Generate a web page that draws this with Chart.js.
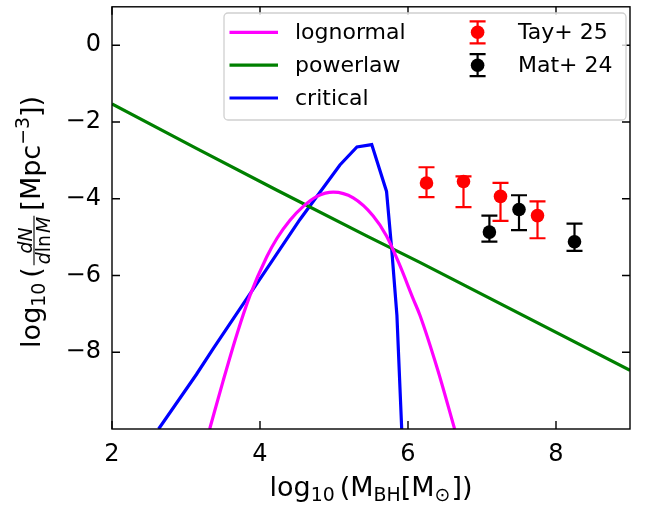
<!DOCTYPE html>
<html><head><meta charset="utf-8">
<script src="https://cdn.jsdelivr.net/npm/chart.js@4"></script>
<style>html,body{margin:0;padding:0;background:#fff}canvas{display:block}</style>
</head><body>
<canvas id="c" width="648" height="508"></canvas>
<script>
// ---- data ----
const xTicks = [2, 4, 6, 8];
const yTicks = [-8, -6, -4, -2, 0];

const lognormalX = [3.32, 3.50, 3.685, 3.865, 4.09, 4.23, 4.405, 4.585, 4.77, 4.99, 5.26, 5.53, 5.71, 5.89, 6.07, 6.16, 6.40, 6.63];
const lognormalY = [-10.0, -8.76, -7.55, -6.52, -5.52, -5.03, -4.56, -4.20, -3.94, -3.83, -3.98, -4.45, -4.97, -5.74, -6.61, -7.03, -8.45, -10.0];

const powerlawX = [2, 3.14, 4.23, 5.44, 6.16, 9];
const powerlawY = [-1.53, -2.69, -3.78, -4.97, -5.66, -8.47];

const criticalX = [2.63, 3.14, 3.37, 3.91, 4.54, 5.08, 5.31, 5.51, 5.71, 5.78, 5.85, 5.915];
const criticalY = [-10.0, -8.58, -7.90, -6.35, -4.54, -3.12, -2.65, -2.59, -3.81, -5.32, -7.03, -10.0];

const tayX = [6.25, 6.75, 7.25, 7.75];
const tayY = [-3.59, -3.55, -3.94, -4.44];
const tayHigh = [-3.18, -3.42, -3.59, -4.07];
const tayLow = [-3.96, -4.22, -4.58, -5.03];

const matX = [7.10, 7.50, 8.25];
const matY = [-4.87, -4.28, -5.12];
const matHigh = [-4.44, -3.91, -4.65];
const matLow = [-5.12, -4.82, -5.36];

const FONT = '"DejaVu Sans", sans-serif';
const FS = 22;   // legend
const TS = 24;   // tick labels
const LF = 27;   // axis labels

function pts(xs, ys) { return xs.map((x, i) => ({x: x, y: ys[i]})); }
function fmt(v) { return (v < 0 ? '\u2212' : '') + Math.abs(v); }

const errorBars = {
  id: 'errorBars',
  beforeDatasetDraw(chart, args) {
    const ds = chart.data.datasets[args.index];
    if (!ds.errLow) return;
    const ctx = chart.ctx, xs = chart.scales.x, ys = chart.scales.y;
    ctx.save();
    ctx.strokeStyle = ds.backgroundColor;
    ctx.lineWidth = 2.2;
    ds.data.forEach((p, i) => {
      const px = xs.getPixelForValue(p.x);
      const y1 = ys.getPixelForValue(ds.errHigh[i]);
      const y2 = ys.getPixelForValue(ds.errLow[i]);
      ctx.beginPath();
      ctx.moveTo(px, y1); ctx.lineTo(px, y2);
      ctx.moveTo(px - 8, y1); ctx.lineTo(px + 8, y1);
      ctx.moveTo(px - 8, y2); ctx.lineTo(px + 8, y2);
      ctx.stroke();
    });
    ctx.restore();
  }
};

const frame = {
  id: 'frame',
  afterDatasetsDraw(chart) {
    const ctx = chart.ctx, a = chart.chartArea, xs = chart.scales.x, ys = chart.scales.y;
    const L = 8;
    ctx.save();
    ctx.strokeStyle = '#000';
    ctx.lineWidth = 1.4;
    ctx.strokeRect(a.left, a.top, a.right - a.left, a.bottom - a.top);
    ctx.beginPath();
    xTicks.forEach(v => {
      const px = xs.getPixelForValue(v);
      ctx.moveTo(px, a.bottom); ctx.lineTo(px, a.bottom - L);
      ctx.moveTo(px, a.top); ctx.lineTo(px, a.top + L);
    });
    yTicks.forEach(v => {
      const py = ys.getPixelForValue(v);
      ctx.moveTo(a.left, py); ctx.lineTo(a.left + L, py);
      ctx.moveTo(a.right, py); ctx.lineTo(a.right - L, py);
    });
    ctx.stroke();
    ctx.restore();
  }
};

// draw a sequence of text runs; returns width
function runs(ctx, list, x0, y0, draw) {
  let x = x0;
  list.forEach(r => {
    if (r.frac) {
      const s = r.size;
      const wn = runs(ctx, r.num, 0, 0, false);
      const wd = runs(ctx, r.den, 0, 0, false);
      const w = Math.max(wn, wd) + 2;
      if (draw) {
        runs(ctx, r.num, x + (w - wn) / 2, y0 - r.bar - 2.5, true);
        runs(ctx, r.den, x + (w - wd) / 2, y0 - r.bar + 2 + s * 0.76, true);
        ctx.save();
        ctx.lineWidth = 1.1;
        ctx.beginPath();
        ctx.moveTo(x, y0 - r.bar); ctx.lineTo(x + w, y0 - r.bar);
        ctx.stroke();
        ctx.restore();
      }
      x += w + (r.gap || 0);
      return;
    }
    ctx.font = (r.it ? 'italic ' : '') + r.size + 'px ' + FONT;
    if (draw) ctx.fillText(r.s, x, y0 + (r.dy || 0));
    x += ctx.measureText(r.s).width + (r.gap || 0);
  });
  return x - x0;
}

const axisLabels = {
  id: 'axisLabels',
  afterDraw(chart) {
    const ctx = chart.ctx, a = chart.chartArea;
    const sub = LF * 0.7;
    ctx.save();
    ctx.fillStyle = '#000';
    ctx.strokeStyle = '#000';
    ctx.textBaseline = 'alphabetic';
    ctx.textAlign = 'left';
    // x label
    const xl = [
      {s: 'log', size: LF},
      {s: '10', size: sub, dy: 5, gap: 5},
      {s: '(M', size: LF},
      {s: 'BH', size: sub, dy: 5},
      {s: '[M', size: LF},
      {s: '\u2299', size: sub, dy: 5, gap: 1},
      {s: '])', size: LF}
    ];
    const wx = runs(ctx, xl, 0, 0, false);
    runs(ctx, xl, (a.left + a.right) / 2 - wx / 2, 496, true);
    // y label
    const yl = [
      {s: 'log', size: LF},
      {s: '10', size: sub, dy: 5, gap: 5},
      {s: '(', size: LF, gap: 2},
      {frac: true, size: sub, bar: 6, gap: 5,
        num: [{s: 'dN', size: sub, it: true}],
        den: [{s: 'd', size: sub, it: true}, {s: 'ln', size: sub, gap: 2}, {s: 'M', size: sub, it: true}]},
      {s: '[Mpc', size: LF},
      {s: '\u22123', size: sub, dy: -11},
      {s: '])', size: LF}
    ];
    const wy = runs(ctx, yl, 0, 0, false);
    ctx.translate(40, (a.top + a.bottom) / 2 + 4);
    ctx.rotate(-Math.PI / 2);
    runs(ctx, yl, -wy / 2, 0, true);
    ctx.restore();
  }
};

const legendBox = {
  id: 'legendBox',
  afterDraw(chart) {
    const ctx = chart.ctx;
    ctx.save();
    ctx.beginPath();
    ctx.roundRect(224, 13, 402, 107, 4);
    ctx.fillStyle = 'rgba(255,255,255,0.8)';
    ctx.fill();
    ctx.strokeStyle = '#d0d0d0';
    ctx.lineWidth = 1.3;
    ctx.stroke();
    const rows = [32.3, 65.2, 98.0];
    const lines = [['lognormal', '#ff00ff'], ['powerlaw', '#008000'], ['critical', '#0000ff']];
    ctx.font = FS + 'px ' + FONT;
    ctx.textBaseline = 'middle';
    lines.forEach((l, i) => {
      ctx.strokeStyle = l[1];
      ctx.lineWidth = 3.2;
      ctx.beginPath();
      ctx.moveTo(229.5, rows[i]); ctx.lineTo(278, rows[i]);
      ctx.stroke();
      ctx.fillStyle = '#000';
      ctx.fillText(l[0], 295, rows[i] + 1);
    });
    const marks = [['Tay+ 25', '#ff0000'], ['Mat+ 24', '#000000']];
    marks.forEach((m, i) => {
      const cx = 477.6, cy = rows[i];
      ctx.strokeStyle = m[1];
      ctx.fillStyle = m[1];
      ctx.lineWidth = 2.2;
      ctx.beginPath();
      ctx.moveTo(cx, cy - 11); ctx.lineTo(cx, cy + 11);
      ctx.moveTo(cx - 8, cy - 11); ctx.lineTo(cx + 8, cy - 11);
      ctx.moveTo(cx - 8, cy + 11); ctx.lineTo(cx + 8, cy + 11);
      ctx.stroke();
      ctx.beginPath();
      ctx.arc(cx, cy, 6.8, 0, Math.PI * 2);
      ctx.fill();
      ctx.fillStyle = '#000';
      ctx.fillText(m[0], 518, cy + 1);
    });
    ctx.restore();
  }
};

const lineDs = (label, xs, ys, color, smooth) => ({
  type: 'scatter', label: label, data: pts(xs, ys), showLine: true,
  borderColor: color, backgroundColor: color, borderWidth: 3.2,
  pointRadius: 0, tension: smooth ? 0.4 : 0,
  cubicInterpolationMode: smooth ? 'monotone' : 'default', clip: 0
});
const errDs = (label, xs, ys, hi, lo, color) => ({
  type: 'scatter', label: label, data: pts(xs, ys), showLine: false,
  backgroundColor: color, borderColor: color, borderWidth: 0,
  pointRadius: 6.8, errHigh: hi, errLow: lo, clip: false
});

const noPad = s => { s.paddingTop = 0; s.paddingBottom = 0; s.paddingLeft = 0; s.paddingRight = 0; };

new Chart(document.getElementById('c'), {
  type: 'scatter',
  data: {
    datasets: [
      lineDs('lognormal', lognormalX, lognormalY, '#ff00ff', true),
      lineDs('powerlaw', powerlawX, powerlawY, '#008000', false),
      lineDs('critical', criticalX, criticalY, '#0000ff', false),
      errDs('Tay+ 25', tayX, tayY, tayHigh, tayLow, '#ff0000'),
      errDs('Mat+ 24', matX, matY, matHigh, matLow, '#000000')
    ]
  },
  options: {
    responsive: false,
    animation: false,
    devicePixelRatio: 1,
    layout: {padding: {top: 3, right: 18, left: 0, bottom: 0}},
    plugins: {legend: {display: false}, tooltip: {enabled: false}, title: {display: false}},
    scales: {
      x: {
        type: 'linear', min: 2, max: 9,
        afterBuildTicks: s => { s.ticks = xTicks.map(v => ({value: v})); },
        afterFit: s => { s.height = 79; noPad(s); },
        grid: {display: false, drawTicks: false},
        border: {display: false},
        ticks: {font: {family: FONT, size: TS}, color: '#000', padding: 11, maxRotation: 0, callback: v => fmt(v)}
      },
      y: {
        type: 'linear', min: -10, max: 1,
        afterBuildTicks: s => { s.ticks = yTicks.map(v => ({value: v})); },
        afterFit: s => { s.width = 112; noPad(s); },
        grid: {display: false, drawTicks: false},
        border: {display: false},
        ticks: {font: {family: FONT, size: TS}, color: '#000', padding: 11, callback: v => fmt(v)}
      }
    }
  },
  plugins: [errorBars, frame, axisLabels, legendBox]
});
</script>
</body></html>
